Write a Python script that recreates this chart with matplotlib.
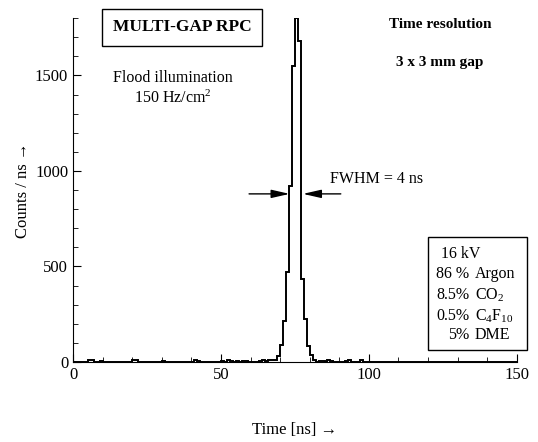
import numpy as np
import matplotlib
matplotlib.use("Agg")
import matplotlib.pyplot as plt
from matplotlib.patches import Rectangle
from matplotlib.ticker import MultipleLocator

plt.rcParams['font.family'] = ['Liberation Serif', 'DejaVu Serif']
plt.rcParams['mathtext.fontset'] = 'custom'
plt.rcParams['mathtext.rm'] = 'Liberation Serif'

# histogram, 1 ns bins from 0 to 150 ns
n_bins = 150
peak_start = 68
peak_counts = [10, 34, 87, 217, 470, 920, 1550, 1800, 1680, 435, 227, 82, 39, 10]
noise_times = [5, 6, 9, 20, 21, 30, 41, 42, 50, 52, 53, 55, 57, 58, 63, 64, 65, 66, 67,
               83, 84, 86, 87, 92, 93, 97]
noise_counts = [8, 10, 6, 8, 10, 5, 8, 6, 6, 8, 6, 5, 6, 5, 5, 8, 6, 10, 12,
                5, 6, 8, 6, 5, 8, 10]

counts = np.zeros(n_bins)
counts[noise_times] = noise_counts
counts[peak_start:peak_start + len(peak_counts)] = peak_counts
edges = np.arange(n_bins + 1)

gas_pct = ["86 %", "8.5%", "0.5%", "5%"]
gas_name = ["Argon", "CO$\\mathregular{_2}$", "C$\\mathregular{_4}$F$\\mathregular{_{10}}$", "DME"]
gas_y = [460, 351, 241, 141]

fig = plt.figure(figsize=(5.38, 4.42), dpi=100)
ax = fig.add_axes([0.1357, 0.181, 0.825, 0.778])

ax.stairs(counts, edges, color='black', lw=1.4)

ax.set_xlim(0, 150)
ax.set_ylim(0, 1800)
ax.spines['top'].set_visible(False)
ax.spines['right'].set_visible(False)
ax.xaxis.set_major_locator(MultipleLocator(50))
ax.xaxis.set_minor_locator(MultipleLocator(10))
ax.yaxis.set_major_locator(MultipleLocator(500))
ax.yaxis.set_minor_locator(MultipleLocator(100))
ax.tick_params(which='both', direction='in', labelsize=12)
ax.tick_params(which='major', length=6)
ax.tick_params(which='minor', length=3.5)
ax.set_xlabel("Time [ns] →", fontsize=12, labelpad=28)
ax.set_ylabel("Counts / ns →", fontsize=12, labelpad=3)

# texts
ax.text(36.8, 1753, "MULTI-GAP RPC", ha='center', va='center', fontsize=12.5,
        fontweight='bold',
        bbox=dict(boxstyle='square,pad=0.6', fc='white', ec='black', lw=1))
ax.text(33.8, 1486, "Flood illumination", ha='center', va='center', fontsize=11.5)
ax.text(33.8, 1381, "150 Hz/cm$\\mathregular{^2}$", ha='center', va='center', fontsize=11.5)
ax.text(124, 1769, "Time resolution", ha='center', va='center', fontsize=11, fontweight='bold')
ax.text(124, 1570, "3 x 3 mm gap", ha='center', va='center', fontsize=11, fontweight='bold')

ax.text(86.8, 960, "FWHM = 4 ns", ha='left', va='center', fontsize=11.5)
arrow = dict(arrowstyle='-|>,head_length=1.1,head_width=0.25', color='black', lw=1,
             shrinkA=0, shrinkB=0)
ax.annotate("", xy=(73.2, 880), xytext=(59.5, 880), arrowprops=arrow)
ax.annotate("", xy=(77.7, 880), xytext=(90.5, 880), arrowprops=arrow)

# gas mixture box
ax.add_patch(Rectangle((119.9, 63), 33.5, 591, fill=False, ec='black', lw=1, clip_on=False))
ax.text(124.3, 565, "16 kV", ha='left', va='center', fontsize=11.5)
for p, g, y in zip(gas_pct, gas_name, gas_y):
    ax.text(134.0, y, p, ha='right', va='center', fontsize=11.5)
    ax.text(135.8, y, g, ha='left', va='center', fontsize=11.5)

fig.savefig("out.png", dpi=100)
